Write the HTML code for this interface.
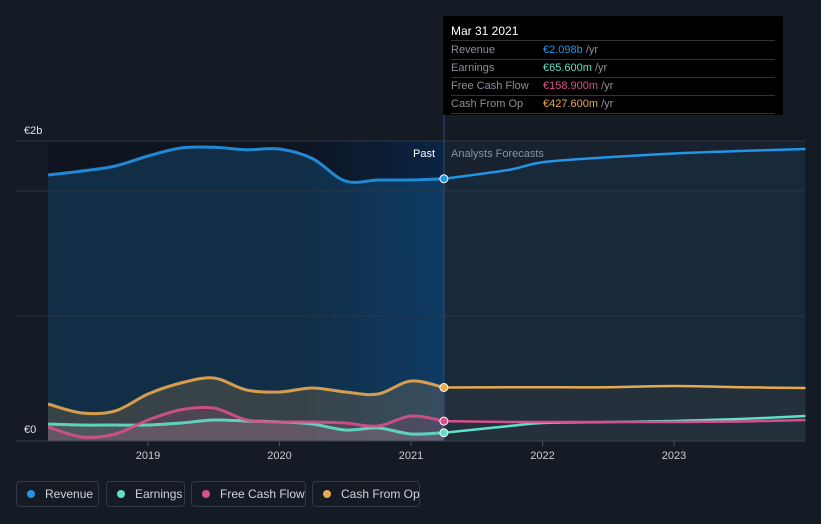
<!DOCTYPE html>
<html><head><meta charset="utf-8"><style>
body{margin:0;background:#151b24;font-family:"Liberation Sans",sans-serif;}
svg{display:block}
.leg{position:absolute;top:481px;height:26px;border:1px solid #323a47;border-radius:4px;color:#d0d4da;font-size:12px;display:flex;align-items:center;box-sizing:border-box;padding:0 0 0 10px;white-space:nowrap}
.leg i{width:8px;height:8px;border-radius:50%;display:inline-block;margin-right:10px;flex-shrink:0}
</style></head><body>
<div style="position:relative;width:821px;height:524px;overflow:hidden">
<svg id="c" width="821" height="524"></svg>
<div class="leg" style="left:16px;width:83px"><i style="background:#2394e6"></i>Revenue</div>
<div class="leg" style="left:106px;width:79px"><i style="background:#5fe0c8"></i>Earnings</div>
<div class="leg" style="left:191px;width:115px"><i style="background:#d6508a"></i>Free Cash Flow</div>
<div class="leg" style="left:312px;width:108px"><i style="background:#e8a94f"></i>Cash From Op</div>
<div style="position:absolute;left:443px;top:16px;width:340px;height:99px;background:#000;border-radius:2px">
<div style="position:absolute;left:8px;top:8px;color:#fff;font-size:12px">Mar 31 2021</div>
<div style="position:absolute;left:8px;right:8px;top:24px;border-top:1px solid #333"></div>
<div style="position:absolute;left:8px;top:26px;font-size:11px;color:#8b9099;line-height:17px;width:324px">
<div style="border-bottom:1px solid #333">Revenue<span style="position:absolute;left:92px;color:#2394e6">€2.098b <span style="color:#8b9099">/yr</span></span></div>
<div style="border-bottom:1px solid #333">Earnings<span style="position:absolute;left:92px;color:#5fe0c8">€65.600m <span style="color:#8b9099">/yr</span></span></div>
<div style="border-bottom:1px solid #333">Free Cash Flow<span style="position:absolute;left:92px;color:#d6508a">€158.900m <span style="color:#8b9099">/yr</span></span></div>
<div style="border-bottom:1px solid #333">Cash From Op<span style="position:absolute;left:92px;color:#e8a94f">€427.600m <span style="color:#8b9099">/yr</span></span></div>
</div></div>
</div>
<script>
const years=[2018.24,2018.5,2018.75,2019,2019.25,2019.5,2019.75,2020,2020.25,2020.5,2020.75,2021,2021.25];
const revenue=[2.128,2.16,2.2,2.28,2.344,2.35,2.33,2.336,2.26,2.08,2.088,2.088,2.098];
const cashOp=[0.296,0.224,0.24,0.376,0.464,0.504,0.408,0.392,0.424,0.392,0.376,0.48,0.428];
const fcf=[0.112,0.032,0.056,0.168,0.25,0.264,0.168,0.152,0.152,0.144,0.12,0.2,0.159];
const earnings=[0.136,0.128,0.128,0.128,0.144,0.168,0.16,0.152,0.136,0.088,0.104,0.056,0.066];
const fYears=[2021.25,2021.75,2022,2022.5,2023,2023.5,2024];
const fRevenue=[2.098,2.17,2.23,2.27,2.3,2.32,2.336];
const fCashOp=[0.428,0.43,0.43,0.43,0.44,0.43,0.424];
const fFcf=[0.159,0.152,0.152,0.152,0.152,0.156,0.168];
const fEarnings=[0.066,0.12,0.144,0.152,0.16,0.176,0.2];
const tickYears=[2019,2020,2021,2022,2023];
const X=v=>148+(v-2019)*131.5, Y=v=>441-v*125;
const svg=document.getElementById('c');const NS='http://www.w3.org/2000/svg';
function el(t,a,p){const e=document.createElementNS(NS,t);for(const k in a)e.setAttribute(k,a[k]);(p||svg).appendChild(e);return e;}
function path(xs,ys){const p=xs.map((x,i)=>[X(x),Y(ys[i])]);let d='M'+p[0];for(let i=0;i<p.length-1;i++){const a=p[i-1]||p[i],b=p[i],c=p[i+1],e=p[i+2]||c;d+=` C${b[0]+(c[0]-a[0])/6},${b[1]+(c[1]-a[1])/6} ${c[0]-(e[0]-b[0])/6},${c[1]-(e[1]-b[1])/6} ${c[0]},${c[1]}`;}return d;}
const defs=el('defs',{});
const g=el('linearGradient',{id:'hl',x1:0,x2:1,y1:0,y2:0},defs);
el('stop',{offset:0,'stop-color':'#0c1624'},g);el('stop',{offset:1,'stop-color':'#0b2444'},g);
el('rect',{x:48,y:141,width:396,height:300,fill:'#0e1520'});
el('rect',{x:310,y:141,width:134,height:300,fill:'url(#hl)'});
el('rect',{x:444,y:141,width:361,height:300,fill:'#18222f'});
[[years,revenue,'rgba(35,148,230,0.2)'],[fYears,fRevenue,'rgba(35,148,230,0.06)'],[years,cashOp,'rgba(232,169,79,0.18)'],[fYears,fCashOp,'rgba(232,169,79,0.06)'],[years,fcf,'rgba(214,80,138,0.15)'],[years,earnings,'rgba(200,200,200,0.15)']].forEach(([xs,ys,f])=>{
const a=el('path',{d:path(xs,ys)+` L${X(xs[xs.length-1])},441 L${X(xs[0])},441 Z`,fill:f});
});
[141,191,316].forEach(y=>el('line',{x1:16,x2:805,y1:y,y2:y,stroke:'#2c3542','stroke-width':1}));
el('line',{x1:16,x2:805,y1:441,y2:441,stroke:'#3a4350'});
el('line',{x1:444,x2:444,y1:16,y2:441,stroke:'#2a4a7a'});
tickYears.forEach(t=>{el('line',{x1:X(t),x2:X(t),y1:441,y2:446,stroke:'#4a525e'});const tx=el('text',{x:X(t),y:459,fill:'#c8ccd2','font-size':11,'text-anchor':'middle'});tx.textContent=t;
});
const l1=el('text',{x:24,y:134,fill:'#e0e3e8','font-size':11});l1.textContent='€2b';
const l0=el('text',{x:24,y:433,fill:'#e0e3e8','font-size':11});l0.textContent='€0';
const p1=el('text',{x:435,y:157,fill:'#fff','font-size':11,'text-anchor':'end'});p1.textContent='Past';
const p2=el('text',{x:451,y:157,fill:'#8b929c','font-size':11});p2.textContent='Analysts Forecasts';
[[years,fYears,earnings,fEarnings,'#5fe0c8','earnings'],[years,fYears,fcf,fFcf,'#d6508a','fcf'],[years,fYears,cashOp,fCashOp,'#e8a94f','cash-from-op'],[years,fYears,revenue,fRevenue,'#2394e6','revenue']].forEach(([xs,fx,ys,fy,c,n])=>{
const a=el('path',{d:path(xs,ys),fill:'none',stroke:c,'stroke-width':3,opacity:0.9});
const b=el('path',{d:path(fx,fy),fill:'none',stroke:c,'stroke-width':2.5});
const d=el('circle',{cx:X(xs[xs.length-1]),cy:Y(ys[ys.length-1]),r:4,fill:c,stroke:'#fff','stroke-width':1});});
</script></body></html>
